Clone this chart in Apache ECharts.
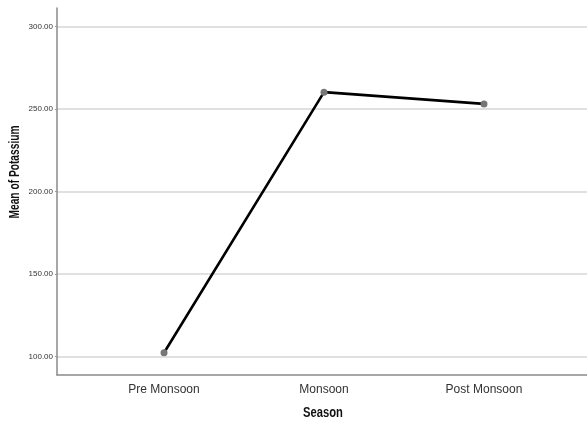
<!DOCTYPE html>
<html>
<head>
<meta charset="utf-8">
<script src="https://cdn.jsdelivr.net/npm/echarts@6/dist/echarts.min.js"></script>
<style>
  html, body { margin: 0; padding: 0; background: #ffffff; }
  #chart { width: 587px; height: 428px; }
</style>
</head>
<body>
<div id="chart"></div>
<script>
// Seasonal mean potassium
const seasons = ['Pre Monsoon', 'Monsoon', 'Post Monsoon'];
const meanPotassium = [102.4, 260.3, 253.2];
const yTicks = [100, 150, 200, 250, 300];

const font = '"Liberation Sans", Arial, sans-serif';

const chart = echarts.init(document.getElementById('chart'), null, { renderer: 'canvas' });

chart.setOption({
  animation: false,
  backgroundColor: '#ffffff',
  grid: { left: 57, right: 0, top: 8, bottom: 53, containLabel: false },
  xAxis: {
    type: 'value',
    min: -0.669,
    max: 2.644,
    axisLine: { show: true, onZero: false, lineStyle: { color: '#8a8a8a', width: 1.5 } },
    axisTick: { show: false },
    splitLine: { show: false },
    axisLabel: {
      customValues: seasons.map((_, i) => i),
      formatter: v => seasons[Math.round(v)],
      fontFamily: font,
      fontSize: 12,
      color: '#333',
      margin: 9
    }
  },
  yAxis: {
    type: 'value',
    min: 88.9,
    max: 311.3,
    axisLine: { show: true, onZero: false, lineStyle: { color: '#8a8a8a', width: 1.5 } },
    axisTick: { show: true, customValues: yTicks, length: 2, lineStyle: { color: '#999' } },
    splitLine: { show: true, lineStyle: { color: '#d6d6d6', width: 1.5 } },
    axisLabel: {
      customValues: yTicks,
      formatter: v => v.toFixed(2),
      fontFamily: font,
      fontSize: 8,
      color: '#333',
      margin: 4
    }
  },
  graphic: [{
    type: 'text',
    x: 15,
    y: 172,
    rotation: Math.PI / 2,
    scaleX: 0.73,
    style: {
      text: 'Mean of Potassium',
      fontFamily: font,
      fontWeight: 'bold',
      fontSize: 14,
      fill: '#111',
      align: 'center',
      verticalAlign: 'middle'
    }
  }, {
    type: 'text',
    x: 323,
    y: 413,
    scaleX: 0.8,
    style: {
      text: 'Season',
      fontFamily: font,
      fontWeight: 'bold',
      fontSize: 14,
      fill: '#111',
      align: 'center',
      verticalAlign: 'middle'
    }
  }],
  series: [{
    type: 'line',
    data: meanPotassium.map((v, i) => [i, v]),
    symbol: 'circle',
    symbolSize: 7,
    itemStyle: { color: '#777777' },
    lineStyle: { color: '#000000', width: 2.6 },
    emphasis: { disabled: true }
  }]
});
</script>
</body>
</html>
